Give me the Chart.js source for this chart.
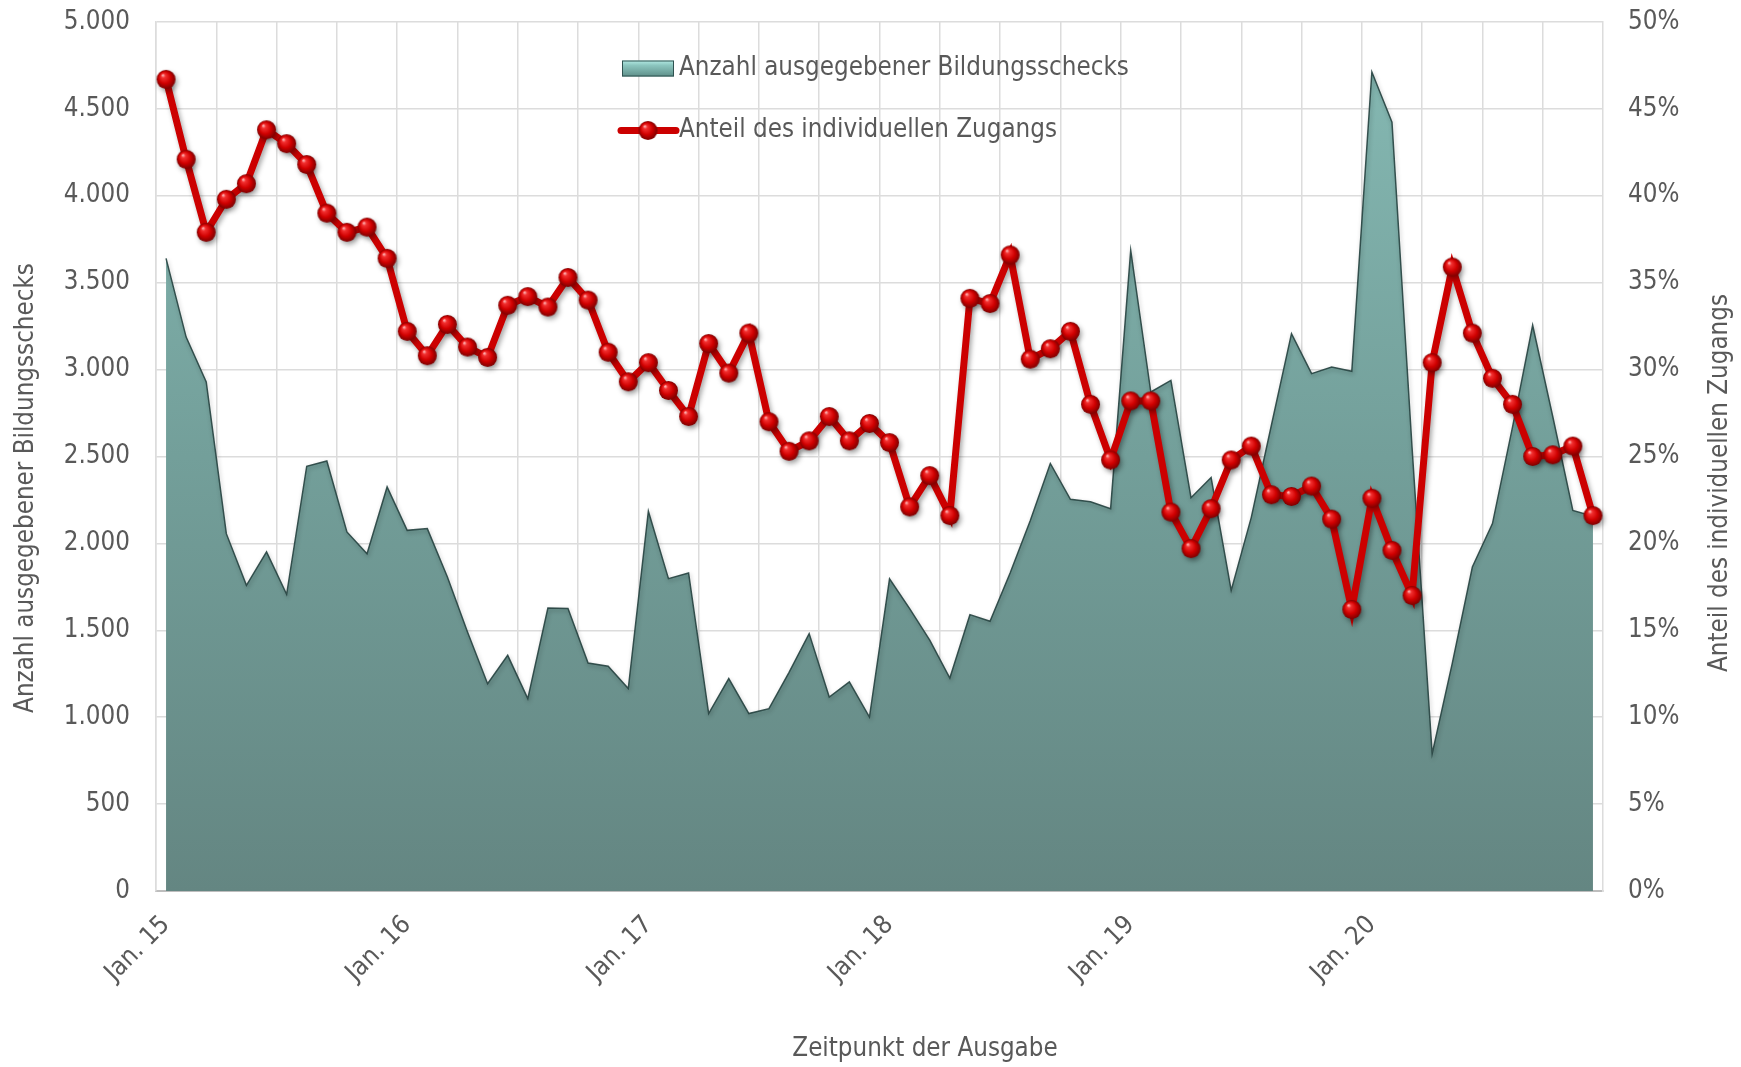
<!DOCTYPE html>
<html>
<head>
<meta charset="utf-8">
<script src="https://cdn.jsdelivr.net/npm/chart.js@4.4.1/dist/chart.umd.min.js"></script>
<style>
html,body{margin:0;padding:0;background:#ffffff;}
#wrap{width:1741px;height:1067px;position:relative;}
</style>
</head>
<body>
<div id="wrap"><canvas id="c" width="1741" height="1067"></canvas></div>
<script>
// ---------- Daten ----------
const monate = ['Jan.','Feb.','März','Apr.','Mai','Juni','Juli','Aug.','Sep.','Okt.','Nov.','Dez.'];
const jahre = ['15','16','17','18','19','20'];
const kategorien = [];
jahre.forEach(j => monate.forEach(m => kategorien.push(m + ' ' + j)));

const serieSchecks = 'Anzahl ausgegebener Bildungsschecks';
const serieAnteil = 'Anteil des individuellen Zugangs';

// Anzahl ausgegebener Bildungsschecks (monatlich, Jan. 15 – Dez. 20)
const anzahlSchecks = [
  3640, 3187, 2929, 2056, 1759, 1951, 1707, 2444, 2474, 2066, 1941, 2325,
  2075, 2085, 1807, 1490, 1193, 1356, 1107, 1628, 1625, 1312, 1293, 1165,
  2185, 1797, 1830, 1021, 1222, 1021, 1049, 1258, 1481, 1116, 1203, 1001,
  1796, 1625, 1443, 1225, 1590, 1552, 1830, 2130, 2460, 2254, 2240, 2200,
  3686, 2871, 2938, 2263, 2379, 1730, 2150, 2680, 3207, 2977, 3015, 2990,
  4712, 4424, 2550,  790, 1310, 1864, 2114, 2670, 3255, 2730, 2190, 2156
];
// Anteil des individuellen Zugangs in %
const anteilIndividuell = [
  46.7, 42.1, 37.9, 39.8, 40.7, 43.8, 43.0, 41.8, 39.0, 37.9, 38.2, 36.4,
  32.2, 30.8, 32.6, 31.3, 30.7, 33.7, 34.2, 33.6, 35.3, 34.0, 31.0, 29.3,
  30.4, 28.8, 27.3, 31.5, 29.8, 32.1, 27.0, 25.3, 25.9, 27.3, 25.9, 26.9,
  25.8, 22.1, 23.9, 21.6, 34.1, 33.8, 36.6, 30.6, 31.2, 32.2, 28.0, 24.8,
  28.2, 28.2, 21.8, 19.7, 22.0, 24.8, 25.6, 22.8, 22.7, 23.3, 21.4, 16.2,
  22.6, 19.6, 17.0, 30.4, 35.9, 32.1, 29.5, 28.0, 25.0, 25.1, 25.6, 21.6
];

const tickLinks = [0, 500, 1000, 1500, 2000, 2500, 3000, 3500, 4000, 4500, 5000];
const tickRechts = [0, 5, 10, 15, 20, 25, 30, 35, 40, 45, 50];
const titelLinks = 'Anzahl ausgegebener Bildungsschecks';
const titelRechts = 'Anteil des individuellen Zugangs';
const titelX = 'Zeitpunkt der Ausgabe';

// ---------- Schrift ----------
const FONT_STACK = '"DejaVu Sans Condensed", "DejaVu Sans", Verdana, sans-serif';
const mctx = document.createElement('canvas').getContext('2d');
mctx.font = '100px ' + FONT_STACK;
const refW = mctx.measureText('Anzahl ausgegebener Bildungsschecks').width;
const FS = Math.max(16, Math.min(30, 100 * 450 / refW));
const TXT = '#595959';
Chart.defaults.font.family = FONT_STACK;
Chart.defaults.font.size = FS;
Chart.defaults.color = TXT;

// Ziel-Zeichenfläche
const AREA = { left: 156, right: 1603, top: 22, bottom: 891 };

function fmtDE(v) {
  return String(v).replace(/\B(?=(\d{3})+(?!\d))/g, '.');
}
function keinRand(s) {
  s.paddingTop = 0; s.paddingBottom = 0; s.paddingLeft = 0; s.paddingRight = 0;
}

// ---------- Kugel-Marker ----------
function kugel(r) {
  const s = Math.ceil(r * 2 + 2);
  const c = document.createElement('canvas');
  c.width = s; c.height = s;
  const g = c.getContext('2d');
  const cx = s / 2, cy = s / 2;
  const grd = g.createRadialGradient(cx - r * 0.35, cy - r * 0.45, r * 0.05, cx, cy, r);
  grd.addColorStop(0, '#ffb0b0');
  grd.addColorStop(0.18, '#f23030');
  grd.addColorStop(0.6, '#d00000');
  grd.addColorStop(1, '#7c0000');
  g.fillStyle = grd;
  g.beginPath(); g.arc(cx, cy, r, 0, Math.PI * 2); g.fill();
  return c;
}
const markerImg = kugel(9.5);

function flaechenVerlauf(ctx, area) {
  const g = ctx.createLinearGradient(0, area.top, 0, area.bottom);
  g.addColorStop(0, '#86bab4');
  g.addColorStop(0.5, '#739f9a');
  g.addColorStop(1, '#648682');
  return g;
}

// ---------- Plugins ----------
const schattenPlugin = {
  id: 'schatten',
  beforeDatasetDraw(chart, args) {
    const c = chart.ctx;
    c.save();
    if (args.index === 0) {
      c.shadowColor = 'rgba(0,0,0,0.35)';
      c.shadowBlur = 5;
      c.shadowOffsetX = 2;
      c.shadowOffsetY = 3;
    } else {
      c.shadowColor = 'rgba(0,0,0,0.3)';
      c.shadowBlur = 4;
      c.shadowOffsetX = 1;
      c.shadowOffsetY = 2;
    }
  },
  afterDatasetDraw(chart) { chart.ctx.restore(); }
};

const titelPlugin = {
  id: 'achsentitel',
  afterDraw(chart) {
    const c = chart.ctx;
    c.save();
    c.fillStyle = TXT;
    c.font = FS + 'px ' + FONT_STACK;
    c.textAlign = 'center';
    c.textBaseline = 'middle';
    c.save(); c.translate(26, 488); c.rotate(-Math.PI / 2); c.fillText(titelLinks, 0, 0); c.restore();
    c.save(); c.translate(1720, 483); c.rotate(-Math.PI / 2); c.fillText(titelRechts, 0, 0); c.restore();
    c.fillText(titelX, 925, 1049);
    c.restore();
  }
};

const legendePlugin = {
  id: 'legendeInnen',
  afterDraw(chart) {
    const c = chart.ctx;
    const a = chart.chartArea;
    const x0 = a.left + 466;   // Symbol links
    const y1 = a.top + 46.5;   // Zeile 1
    const y2 = a.top + 108.5;  // Zeile 2
    c.save();
    const g = c.createLinearGradient(0, y1 - 8, 0, y1 + 8);
    g.addColorStop(0, '#b4ebe5');
    g.addColorStop(0.3, '#8cc6bf');
    g.addColorStop(1, '#5e8f89');
    c.fillStyle = g;
    c.fillRect(x0, y1 - 8, 52, 16);
    c.strokeStyle = '#2f5250';
    c.lineWidth = 1;
    c.strokeRect(x0 + 0.5, y1 - 7.5, 51, 15);
    c.strokeStyle = '#cc0000';
    c.lineWidth = 7;
    c.lineCap = 'round';
    c.beginPath(); c.moveTo(x0 - 1, y2); c.lineTo(x0 + 54, y2); c.stroke();
    c.drawImage(markerImg, x0 + 26 - markerImg.width / 2, y2 - markerImg.height / 2);
    c.fillStyle = TXT;
    c.font = FS + 'px ' + FONT_STACK;
    c.textBaseline = 'middle';
    c.textAlign = 'left';
    c.fillText(serieSchecks, x0 + 57, y1);
    c.fillText(serieAnteil, x0 + 57, y2);
    c.restore();
  }
};

// ---------- Diagramm ----------
const chart = new Chart(document.getElementById('c'), {
  data: {
    labels: kategorien,
    datasets: [
      {
        type: 'line',
        label: serieAnteil,
        data: anteilIndividuell,
        yAxisID: 'y1',
        borderColor: '#cc0000',
        borderWidth: 7,
        tension: 0,
        pointStyle: markerImg,
        pointRadius: 9.5,
        pointHoverRadius: 9.5,
        fill: false,
        order: 1
      },
      {
        type: 'line',
        label: serieSchecks,
        data: anzahlSchecks,
        yAxisID: 'y',
        borderColor: 'rgba(38,66,64,0.9)',
        borderWidth: 1.5,
        tension: 0,
        pointRadius: 0,
        pointHoverRadius: 0,
        fill: 'origin',
        backgroundColor(ctx) {
          const area = ctx.chart.chartArea;
          if (!area) return '#739f9a';
          return flaechenVerlauf(ctx.chart.ctx, area);
        },
        order: 2
      }
    ]
  },
  options: {
    responsive: false,
    animation: false,
    events: [],
    layout: { padding: { top: AREA.top, left: 0, right: 0, bottom: 0 } },
    plugins: {
      legend: { display: false },
      tooltip: { enabled: false }
    },
    scales: {
      x: {
        type: 'category',
        offset: true,
        afterFit(s) { s.height = 1067 - AREA.bottom; keinRand(s); },
        grid: {
          offset: true,
          drawTicks: false,
          lineWidth: 1.5,
          color(ctx) { return ctx.index % 3 === 0 ? '#dcdcdc' : 'rgba(0,0,0,0)'; }
        },
        border: { display: true, color: '#bdbdbd', width: 2 },
        ticks: {
          autoSkip: false,
          maxRotation: 45,
          minRotation: 45,
          padding: 19,
          labelOffset: 0,
          color: TXT,
          callback(value, index) {
            return index % 12 === 0 ? this.getLabelForValue(value) : '';
          }
        },
        title: { display: false }
      },
      y: {
        position: 'left',
        min: 0,
        max: 5000,
        afterFit(s) { s.width = AREA.left; keinRand(s); },
        afterBuildTicks(s) { s.ticks = tickLinks.map(v => ({ value: v })); },
        grid: { color: '#dcdcdc', lineWidth: 1.5, drawTicks: false },
        border: { display: true, color: '#dcdcdc', width: 1.5 },
        ticks: {
          padding: 26,
          color: TXT,
          callback(v) { return fmtDE(v); }
        },
        title: { display: false }
      },
      y1: {
        position: 'right',
        min: 0,
        max: 50,
        afterFit(s) { s.width = 1741 - AREA.right; keinRand(s); },
        afterBuildTicks(s) { s.ticks = tickRechts.map(v => ({ value: v })); },
        grid: { drawOnChartArea: false, drawTicks: false },
        border: { display: true, color: '#dcdcdc', width: 1.5 },
        ticks: {
          padding: 25,
          color: TXT,
          callback(v) { return v + '%'; }
        },
        title: { display: false }
      }
    }
  },
  plugins: [schattenPlugin, titelPlugin, legendePlugin]
});

// Zeichenfläche exakt auf die Zielposition bringen
for (let k = 0; k < 3; k++) {
  const ca = chart.chartArea;
  const dTop = ca.top - AREA.top;
  const dBottom = ca.bottom - AREA.bottom;
  if (Math.abs(dTop) < 0.5 && Math.abs(dBottom) < 0.5) break;
  chart.options.layout.padding.top = Math.max(0, chart.options.layout.padding.top - dTop);
  chart.options.layout.padding.bottom = Math.max(0, chart.options.layout.padding.bottom + dBottom);
  chart.update();
}
</script>
</body>
</html>
